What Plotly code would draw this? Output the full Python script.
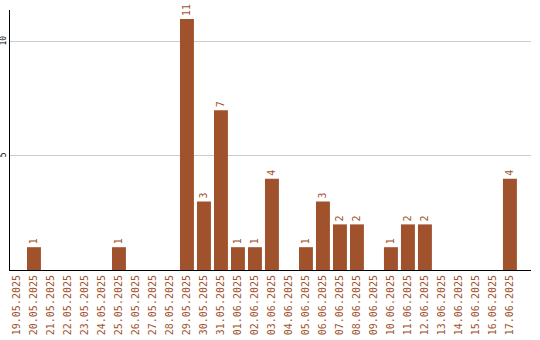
import plotly.graph_objects as go

dates = ["19.05.2025","20.05.2025","21.05.2025","22.05.2025","23.05.2025","24.05.2025",
         "25.05.2025","26.05.2025","27.05.2025","28.05.2025","29.05.2025","30.05.2025",
         "31.05.2025","01.06.2025","02.06.2025","03.06.2025","04.06.2025","05.06.2025",
         "06.06.2025","07.06.2025","08.06.2025","09.06.2025","10.06.2025","11.06.2025",
         "12.06.2025","13.06.2025","14.06.2025","15.06.2025","16.06.2025","17.06.2025"]
values = [0,1,0,0,0,0,1,0,0,0,11,3,7,1,1,4,0,1,3,2,2,0,1,2,2,0,0,0,0,4]
y_ticks = [5, 10]

bar_color = "#A0522D"
font_mono = "DejaVu Sans Mono"

fig = go.Figure(go.Bar(
    x=list(range(len(dates))),
    y=values,
    marker=dict(color=bar_color, line=dict(width=0)),
    text=[str(v) if v else "" for v in values],
    textposition="outside",
    textangle=-90,
    textfont=dict(family=font_mono, size=10, color=bar_color),
    cliponaxis=False,
))

fig.update_layout(
    width=540, height=340,
    margin=dict(l=10, r=9, t=10, b=70),
    paper_bgcolor="white", plot_bgcolor="white",
    bargap=0.18,
    showlegend=False,
)
fig.update_xaxes(
    tickmode="array",
    tickvals=list(range(len(dates))),
    ticktext=dates,
    tickangle=-90,
    tickfont=dict(family=font_mono, size=10, color=bar_color),
    range=[-0.41, 30.24],
    showline=True, linecolor="black", linewidth=1,
    showgrid=False, ticks="", ticklen=0,
    automargin=False,
)
fig.update_yaxes(
    range=[0, 11.4],
    tickvals=y_ticks,
    ticktext=[str(t) for t in y_ticks],
    tickangle=-90,
    tickfont=dict(family=font_mono, size=8, color="black"),
    showline=True, linecolor="black", linewidth=1,
    showgrid=True, gridcolor="#cccccc", gridwidth=1,
    zeroline=False, ticks="",
    automargin=False,
)

fig.write_html("out.html")
